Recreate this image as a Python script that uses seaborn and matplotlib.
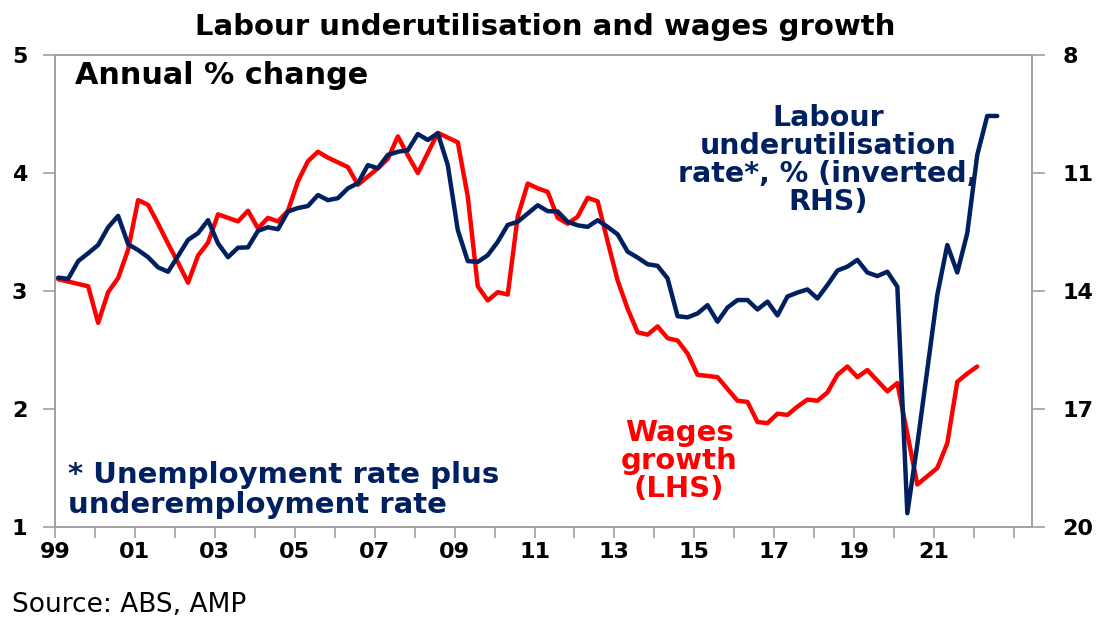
import numpy as np
import pandas as pd
import matplotlib
matplotlib.use("Agg")
import matplotlib.pyplot as plt
import seaborn as sns

# --- data: quarterly, from Q1 1999 ---
start_year = 1999.08
wages_growth = [3.10, 3.08, 3.06, 3.04, 2.73, 2.99, 3.11, 3.35, 3.77, 3.73,
                3.57, 3.40, 3.24, 3.07, 3.30, 3.41, 3.65, 3.62, 3.59, 3.68,
                3.53, 3.62, 3.59, 3.68, 3.93, 4.10, 4.18, 4.13, 4.09, 4.05,
                3.90, 3.97, 4.04, 4.12, 4.31, 4.15, 4.00, 4.17, 4.34, 4.30,
                4.26, 3.80, 3.04, 2.92, 2.99, 2.97, 3.63, 3.91, 3.87, 3.84,
                3.62, 3.57, 3.63, 3.79, 3.76, 3.42, 3.09, 2.85, 2.65, 2.63,
                2.70, 2.60, 2.58, 2.47, 2.29, 2.28, 2.27, 2.17, 2.07, 2.06,
                1.89, 1.88, 1.96, 1.95, 2.02, 2.08, 2.07, 2.14, 2.29, 2.36,
                2.27, 2.33, 2.24, 2.15, 2.22, 1.79, 1.36, 1.43, 1.50, 1.71,
                2.23, 2.30, 2.36]
underutil_rate = [13.66, 13.69, 13.24, 13.04, 12.83, 12.38, 12.09, 12.81, 12.96, 13.14,
                  13.40, 13.51, 13.11, 12.70, 12.53, 12.20, 12.79, 13.14, 12.90, 12.89,
                  12.47, 12.38, 12.43, 11.98, 11.89, 11.84, 11.56, 11.69, 11.64, 11.39,
                  11.26, 10.80, 10.88, 10.54, 10.46, 10.42, 10.01, 10.16, 9.99, 10.80,
                  12.45, 13.24, 13.26, 13.09, 12.75, 12.32, 12.24, 12.03, 11.82, 11.97,
                  11.98, 12.24, 12.33, 12.37, 12.20, 12.37, 12.56, 13.00, 13.15, 13.32,
                  13.36, 13.68, 14.64, 14.67, 14.57, 14.36, 14.78, 14.42, 14.23, 14.23,
                  14.47, 14.27, 14.62, 14.14, 14.04, 13.96, 14.19, 13.85, 13.48, 13.38,
                  13.21, 13.53, 13.62, 13.51, 13.89, 19.65, 17.90, 16.00, 14.10, 12.83,
                  13.53, 12.53, 10.54, 9.55, 9.55]

year_ticks = list(range(1999, 2024))
year_labels = [f"{y % 100:02d}" if y % 2 == 1 and y <= 2021 else "" for y in year_ticks]
lhs_ticks = [1, 2, 3, 4, 5]
rhs_ticks = [8, 11, 14, 17, 20]

wages = pd.DataFrame({"date": start_year + 0.25 * np.arange(len(wages_growth)),
                      "value": wages_growth})
under = pd.DataFrame({"date": start_year + 0.25 * np.arange(len(underutil_rate)),
                      "value": underutil_rate})

RED = "#ff0000"
NAVY = "#002060"
GREY = "#a0a0a0"

sns.set_theme(style="white")
plt.rcParams["font.family"] = ["DejaVu Sans"]
plt.rcParams["text.color"] = "black"
plt.rcParams["xtick.color"] = "black"
plt.rcParams["ytick.color"] = "black"

fig = plt.figure(figsize=(11.11, 6.39), dpi=100)
ax = fig.add_axes([55 / 1111, 1 - 527 / 639, (1032 - 55) / 1111, (527 - 55) / 639])
ax2 = ax.twinx()

sns.lineplot(data=wages, x="date", y="value", ax=ax, color=RED, linewidth=3.2)
sns.lineplot(data=under, x="date", y="value", ax=ax2, color=NAVY, linewidth=3.2)

ax.set_xlim(1999.0, 2023.45)
ax.set_ylim(1, 5)
ax2.set_ylim(20, 8)

ax.set_xticks(year_ticks)
ax.set_xticklabels(year_labels)
ax.set_yticks(lhs_ticks)
ax2.set_yticks(rhs_ticks)
ax.set_xlabel("")
ax.set_ylabel("")
ax2.set_ylabel("")

for a in (ax, ax2):
    for s in a.spines.values():
        s.set_color(GREY)
        s.set_linewidth(1.2)
ax.tick_params(axis="x", direction="out", length=8, width=1.2, color=GREY,
               labelsize=16, pad=3, bottom=True, labelcolor="black")
ax.tick_params(axis="y", direction="out", length=9, width=1.2, color=GREY,
               labelsize=16, pad=11, left=True, labelcolor="black")
ax2.tick_params(axis="y", direction="out", length=9, width=1.2, color=GREY,
                labelsize=16, pad=13, right=True, labelcolor="black")
for lab in ax.get_xticklabels() + ax.get_yticklabels() + ax2.get_yticklabels():
    lab.set_fontweight("bold")

# texts
fig.text(545 / 1111, 1 - 27 / 639, "Labour underutilisation and wages growth",
         ha="center", va="center", fontsize=21, fontweight="bold")
fig.text(75 / 1111, 1 - 75 / 639, "Annual % change",
         ha="left", va="center", fontsize=21.8, fontweight="bold")
fig.text(828 / 1111, 1 - 160 / 639, "Labour\nunderutilisation\nrate*, % (inverted,\nRHS)",
         ha="center", va="center", fontsize=20.5, fontweight="bold", color=NAVY,
         linespacing=0.99)
fig.text(679 / 1111, 1 - 461 / 639, "Wages\ngrowth\n(LHS)",
         ha="center", va="center", fontsize=21, fontweight="bold", color=RED,
         linespacing=0.98)
fig.text(68 / 1111, 1 - 490 / 639, "* Unemployment rate plus\nunderemployment rate",
         ha="left", va="center", fontsize=21, fontweight="bold", color=NAVY,
         linespacing=1.1)
fig.text(12 / 1111, 1 - 605 / 639, "Source: ABS, AMP",
         ha="left", va="center", fontsize=19)

fig.savefig("out.png", dpi=100)
